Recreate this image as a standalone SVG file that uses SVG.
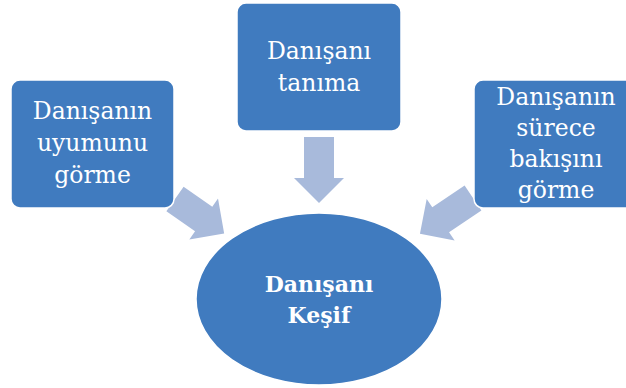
<svg xmlns="http://www.w3.org/2000/svg" width="626" height="388" viewBox="0 0 626 388">
<defs>
<style>
.box{fill:#407BBF;stroke:#ffffff;stroke-width:1.5}
.arr{fill:#A8BADB}
.t{font-family:"DejaVu Serif","Liberation Serif",serif;font-size:23.5px;fill:#ffffff;text-anchor:middle}
.tb{font-family:"DejaVu Serif","Liberation Serif",serif;font-size:22px;font-weight:bold;fill:#ffffff;text-anchor:middle}
</style>
</defs>
<rect width="626" height="388" fill="#ffffff"/>
<g id="connectors">
<polygon class="arr" transform="translate(319,137) rotate(90)" points="0,-15 41,-15 41,-25 66,0 41,25 41,15 0,15"/>
<polygon class="arr" transform="translate(175,199) rotate(35)" points="0,-15 35,-15 35,-25 60,0 35,25 35,15 0,15"/>
<polygon class="arr" transform="translate(473,198) rotate(146)" points="0,-15 39,-15 39,-25 64,0 39,25 39,15 0,15"/>
</g>
<g id="node-left">
<rect class="box" x="11" y="80" width="163" height="128" rx="9"/>
<text class="t" x="92.5" y="119">Danışanın</text>
<text class="t" x="92.5" y="151">uyumunu</text>
<text class="t" x="92.5" y="183">görme</text>
</g>
<g id="node-top">
<rect class="box" x="237" y="3" width="164" height="128" rx="9"/>
<text class="t" x="319" y="59">Danışanı</text>
<text class="t" x="319" y="91">tanıma</text>
</g>
<g id="node-right">
<rect class="box" x="474" y="80" width="163" height="128" rx="9"/>
<text class="t" x="556" y="105">Danışanın</text>
<text class="t" x="556" y="136">sürece</text>
<text class="t" x="556" y="167">bakışını</text>
<text class="t" x="556" y="198">görme</text>
</g>
<g id="node-center">
<ellipse cx="319" cy="299" rx="123" ry="86" fill="#407BBF" stroke="#ffffff" stroke-width="1.5"/>
<text class="tb" x="319" y="292">Danışanı</text>
<text class="tb" x="319" y="323">Keşif</text>
</g>
</svg>
